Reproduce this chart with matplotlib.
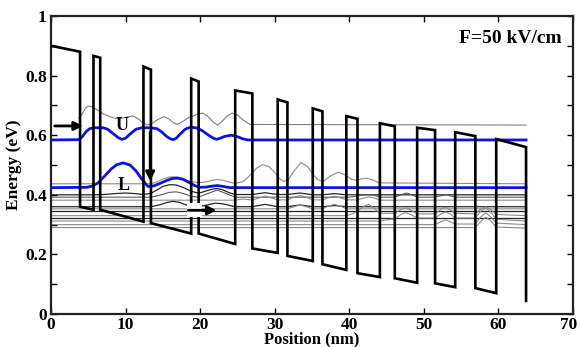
import matplotlib
matplotlib.use("Agg")
import matplotlib.pyplot as plt
import matplotlib.transforms as mtransforms
from matplotlib.patches import Rectangle

plt.rcParams['font.family'] = ['Liberation Serif', 'DejaVu Serif']
plt.rcParams['font.weight'] = 'bold'

# ---------------- data ----------------
# conduction band profile vertices (position nm, energy eV)
cb_x = [0, 3.9, 3.9, 5.7, 5.7, 6.6, 6.6, 12.4, 12.4, 13.4, 13.4, 18.8, 18.8, 19.8, 19.8, 24.7,
        24.7, 27.0, 27.0, 30.4, 30.4, 31.7, 31.7, 35.1, 35.1, 36.4, 36.4, 39.6, 39.6, 41.1,
        41.1, 44.1, 44.1, 46.1, 46.1, 49.1, 49.1, 51.5, 51.5, 54.2, 54.2, 56.9, 56.9, 59.7,
        59.7, 63.7, 63.7]
cb_e = [0.900, 0.880, 0.360, 0.350, 0.866, 0.860, 0.350, 0.310, 0.830, 0.820, 0.305, 0.270,
        0.790, 0.780, 0.270, 0.235, 0.750, 0.740, 0.220, 0.205, 0.720, 0.710, 0.195, 0.178,
        0.690, 0.680, 0.167, 0.148, 0.664, 0.655, 0.137, 0.124, 0.640, 0.630, 0.120, 0.105,
        0.625, 0.617, 0.103, 0.090, 0.610, 0.597, 0.087, 0.070, 0.587, 0.560, 0.044]

# upper laser state U (blue)
u_x = [0, 3.7, 4.2, 4.7, 5.2, 6.0, 7.0, 7.6, 8.3, 9.0, 9.5, 10.0, 10.7, 11.4, 12.2, 13.2, 14.2,
       14.8, 15.5, 16.0, 16.4, 16.8, 17.4, 18.0, 18.5, 19.0, 19.6, 20.3, 21.0, 21.7, 22.2, 22.7,
       23.3, 24.2, 25.0, 25.7, 26.4, 63.7]
u_e = [0.584, 0.585, 0.595, 0.612, 0.622, 0.625, 0.625, 0.620, 0.606, 0.592, 0.586, 0.590,
       0.606, 0.620, 0.625, 0.625, 0.622, 0.612, 0.596, 0.588, 0.585, 0.590, 0.606, 0.620,
       0.625, 0.626, 0.624, 0.615, 0.602, 0.591, 0.586, 0.590, 0.596, 0.600, 0.595, 0.588,
       0.584, 0.584]

# lower laser state L (blue)
l_x = [0, 4.8, 5.6, 6.3, 7.2, 8.0, 8.8, 9.7, 10.6, 11.4, 12.2, 13.0, 13.8, 14.6, 15.5, 16.3,
       17.0, 17.7, 18.4, 19.2, 19.9, 20.8, 21.6, 22.3, 23.1, 24.0, 63.7]
l_e = [0.424, 0.425, 0.430, 0.440, 0.463, 0.485, 0.501, 0.507, 0.500, 0.480, 0.452, 0.428,
       0.430, 0.438, 0.448, 0.455, 0.456, 0.452, 0.443, 0.432, 0.425, 0.426, 0.429, 0.431,
       0.428, 0.424, 0.424]

# other states (thin lines)
s_top_x = [3.7, 4.2, 4.6, 5.0, 5.5, 6.2, 7.0, 7.9, 8.7, 9.5, 10.3, 11.0, 11.6, 12.3, 12.9, 13.6,
           14.3, 15.1, 15.8, 16.4, 16.9, 17.6, 18.4, 19.2, 19.8, 20.4, 21.0, 21.7, 22.3, 22.9,
           23.6, 24.3, 25.0, 25.8, 26.7, 63.7]
s_top_e = [0.657, 0.672, 0.690, 0.698, 0.695, 0.685, 0.672, 0.662, 0.656, 0.657, 0.662, 0.664,
           0.657, 0.642, 0.634, 0.640, 0.652, 0.662, 0.655, 0.642, 0.636, 0.645, 0.658, 0.666,
           0.672, 0.674, 0.664, 0.645, 0.634, 0.645, 0.664, 0.674, 0.668, 0.650, 0.636, 0.634]

g1_x = [0, 13.4, 14.2, 15.0, 15.9, 16.8, 17.6, 18.5, 19.8, 20.8, 21.6, 22.3, 23.0, 23.8, 24.7,
        25.8, 26.8, 27.6, 28.4, 29.2, 30.0, 30.6, 31.2, 31.8, 32.6, 33.5, 34.4, 35.1, 35.8,
        36.6, 37.4, 38.5, 39.5, 40.3, 41.0, 41.6, 42.3, 43.1, 44.0, 63.7]
g1_e = [0.437, 0.437, 0.443, 0.453, 0.460, 0.460, 0.455, 0.446, 0.440, 0.443, 0.449, 0.451,
        0.449, 0.443, 0.438, 0.445, 0.468, 0.490, 0.501, 0.495, 0.475, 0.455, 0.445, 0.450,
        0.480, 0.508, 0.495, 0.470, 0.450, 0.447, 0.462, 0.476, 0.466, 0.452, 0.449, 0.453,
        0.456, 0.450, 0.440, 0.437]

k1_x = [0, 5.7, 7.0, 8.5, 10.0, 11.3, 12.4, 13.4, 14.2, 15.0, 15.9, 16.8, 17.8, 18.8, 19.8,
        20.8, 21.6, 22.3, 23.0, 23.9, 24.7, 27.0, 28.7, 30.4, 31.7, 33.4, 35.1, 36.4, 38.0,
        39.6, 63.7]
k1_e = [0.400, 0.400, 0.401, 0.404, 0.406, 0.404, 0.401, 0.405, 0.416, 0.428, 0.434, 0.433,
        0.424, 0.412, 0.405, 0.413, 0.419, 0.421, 0.417, 0.407, 0.401, 0.401, 0.407, 0.401,
        0.401, 0.406, 0.400, 0.400, 0.404, 0.400, 0.400]

g2_x = [0, 13.4, 14.5, 15.8, 16.8, 17.8, 18.8, 19.8, 21.0, 22.3, 23.5, 24.7, 40.0, 41.5, 42.5,
        43.5, 44.2, 46.1, 46.9, 47.7, 48.4, 49.1, 51.5, 52.3, 53.0, 53.6, 54.2, 63.7]
g2_e = [0.392, 0.392, 0.398, 0.408, 0.410, 0.404, 0.395, 0.392, 0.404, 0.416, 0.404, 0.392,
        0.392, 0.398, 0.401, 0.397, 0.392, 0.392, 0.400, 0.406, 0.400, 0.392, 0.392, 0.397,
        0.400, 0.396, 0.392, 0.392]

g3_x = [0, 24.7, 25.8, 27.0, 28.0, 28.7, 29.5, 30.4, 31.7, 32.6, 33.4, 34.2, 35.1, 36.4, 37.2,
        38.0, 38.8, 39.6, 41.1, 41.9, 42.6, 43.4, 44.1, 63.7]
g3_e = [0.382, 0.382, 0.386, 0.382, 0.390, 0.396, 0.390, 0.383, 0.383, 0.392, 0.398, 0.392,
        0.383, 0.383, 0.390, 0.395, 0.390, 0.383, 0.383, 0.389, 0.393, 0.389, 0.382, 0.382]

k2_x = [0, 13.4, 14.5, 15.5, 16.3, 17.2, 18.0, 18.8, 19.8, 21.0, 22.0, 23.0, 24.0, 24.7, 27.0,
        28.7, 30.4, 31.7, 33.4, 35.1, 36.4, 38.0, 39.6, 63.7]
k2_e = [0.360, 0.360, 0.366, 0.374, 0.378, 0.375, 0.367, 0.361, 0.360, 0.366, 0.372, 0.370,
        0.364, 0.360, 0.360, 0.368, 0.360, 0.360, 0.366, 0.360, 0.360, 0.364, 0.360, 0.360]

g8_x = [0, 30.4, 31.7, 32.6, 33.4, 34.2, 35.1, 36.4, 37.2, 38.0, 38.8, 39.6, 41.1, 63.7]
g8_e = [0.353, 0.353, 0.353, 0.360, 0.366, 0.360, 0.353, 0.353, 0.362, 0.368, 0.362, 0.353,
        0.353, 0.353]

k3_x = [0, 63.7]
k3_e = [0.346, 0.346]

g4_x = [0, 39.6, 40.4, 41.1, 42.0, 42.6, 43.3, 44.1, 46.1, 47.0, 47.6, 48.3, 49.1, 51.5, 52.3,
        52.9, 53.5, 54.2, 56.9, 57.6, 58.3, 59.0, 59.7, 63.7]
g4_e = [0.330, 0.330, 0.336, 0.345, 0.362, 0.368, 0.355, 0.338, 0.338, 0.352, 0.356, 0.348,
        0.336, 0.336, 0.352, 0.358, 0.350, 0.338, 0.336, 0.352, 0.360, 0.350, 0.334, 0.330]

k4_x = [0, 63.7]
k4_e = [0.323, 0.323]

g5_x = [0, 44.1, 46.1, 47.0, 47.6, 48.3, 49.1, 51.5, 52.3, 52.9, 53.5, 54.2, 56.9, 57.6, 58.3,
        59.0, 59.7, 63.7]
g5_e = [0.312, 0.312, 0.320, 0.335, 0.340, 0.333, 0.322, 0.322, 0.336, 0.343, 0.336, 0.322,
        0.322, 0.345, 0.356, 0.342, 0.318, 0.312]

g6_x = [0, 51.5, 52.3, 52.9, 53.5, 54.2, 56.9, 57.6, 58.3, 59.0, 59.7, 63.7]
g6_e = [0.300, 0.300, 0.310, 0.316, 0.310, 0.302, 0.302, 0.325, 0.340, 0.325, 0.305, 0.300]

g7_x = [0, 56.9, 57.6, 58.3, 59.0, 59.7, 63.7]
g7_e = [0.290, 0.290, 0.310, 0.325, 0.312, 0.292, 0.288]

# annotations
arrow_h1 = [(0.5, 0.631), (4.3, 0.631)]
arrow_v = [(13.3, 0.610), (13.3, 0.446)]
arrow_h2 = [(18.4, 0.348), (22.2, 0.348)]
label_U = (9.5, 0.631)
label_L = (9.7, 0.432)

x_ticks = [0, 10, 20, 30, 40, 50, 60, 70]
y_ticks = [0, 0.2, 0.4, 0.6, 0.8, 1.0]
y_ticklabels = ['0', '0.2', '0.4', '0.6', '0.8', '1']

# ---------------- plot ----------------
fig = plt.figure(figsize=(5.8, 3.47), dpi=100)
ax = fig.add_axes([0.0879, 0.095, 0.9001, 0.859])

gray = '#8c8c8c'
dark = '#262626'
thin = [(s_top_x, s_top_e, '#808080', 0.8),
        (g1_x, g1_e, gray, 0.8), (k1_x, k1_e, dark, 0.9), (g2_x, g2_e, '#5a5a5a', 0.8),
        (g3_x, g3_e, gray, 0.8), (k2_x, k2_e, dark, 0.9), (g8_x, g8_e, gray, 0.8),
        (k3_x, k3_e, dark, 0.9), (g4_x, g4_e, gray, 0.8), (k4_x, k4_e, dark, 0.9),
        (g5_x, g5_e, gray, 0.8), (g6_x, g6_e, gray, 0.8), (g7_x, g7_e, gray, 0.8)]
for xs, es, c, lw in thin:
    ax.plot(xs, es, color=c, lw=lw, zorder=2)

ax.plot(u_x, u_e, color='#0a14e6', lw=2.0, zorder=3)
ax.plot(l_x, l_e, color='#0a14e6', lw=2.0, zorder=3)
ax.plot(cb_x, cb_e, color='black', lw=1.9, zorder=4, solid_joinstyle='miter')

# white gap behind the lower arrow
ax.add_patch(Rectangle((18.3, 0.326), 2.0, 0.045, facecolor='white', edgecolor='none', zorder=5))

arrowprops = dict(arrowstyle='-|>', lw=2.0, color='black', mutation_scale=13, shrinkA=0, shrinkB=0)
for a in (arrow_h1, arrow_v, arrow_h2):
    ax.annotate('', xy=a[1], xytext=a[0], arrowprops=arrowprops, zorder=6)

ax.text(*label_U, 'U', fontsize=13, fontweight='bold', ha='center', va='center', zorder=6)
ax.text(*label_L, 'L', fontsize=13, fontweight='bold', ha='center', va='center', zorder=6)
ax.text(0.979, 0.926, 'F=50 kV/cm', transform=ax.transAxes, fontsize=14, fontweight='bold',
        ha='right', va='center')

ax.set_xlim(0, 70)
ax.set_ylim(0, 1)
ax.set_xticks(x_ticks)
ax.set_xticklabels([str(t) for t in x_ticks])
ax.set_yticks(y_ticks)
ax.set_yticklabels(y_ticklabels)
ax.set_yticks([0.1, 0.3, 0.5, 0.7, 0.9], minor=True)
ax.tick_params(which='both', direction='in', top=True, right=True, labelsize=12.5, width=1.0)
ax.tick_params(axis='x', pad=2)
ax.tick_params(axis='y', pad=3)
ax.tick_params(which='major', length=4)
ax.tick_params(which='minor', length=4)
for lab in ax.get_xticklabels() + ax.get_yticklabels():
    lab.set_fontweight('bold')
# keep the last x tick label inside the figure edge
last = ax.get_xticklabels()[-1]
last.set_transform(last.get_transform() +
                   mtransforms.ScaledTranslation(-4 / 100, 0, fig.dpi_scale_trans))
for sp in ax.spines.values():
    sp.set_linewidth(1.6)
    sp.set_color('#222222')
ax.set_xlabel('Position (nm)', fontsize=12, fontweight='bold', labelpad=-1)
ax.set_ylabel('Energy (eV)', fontsize=12.5, fontweight='bold', labelpad=2)

fig.savefig('out.png', dpi=100)
